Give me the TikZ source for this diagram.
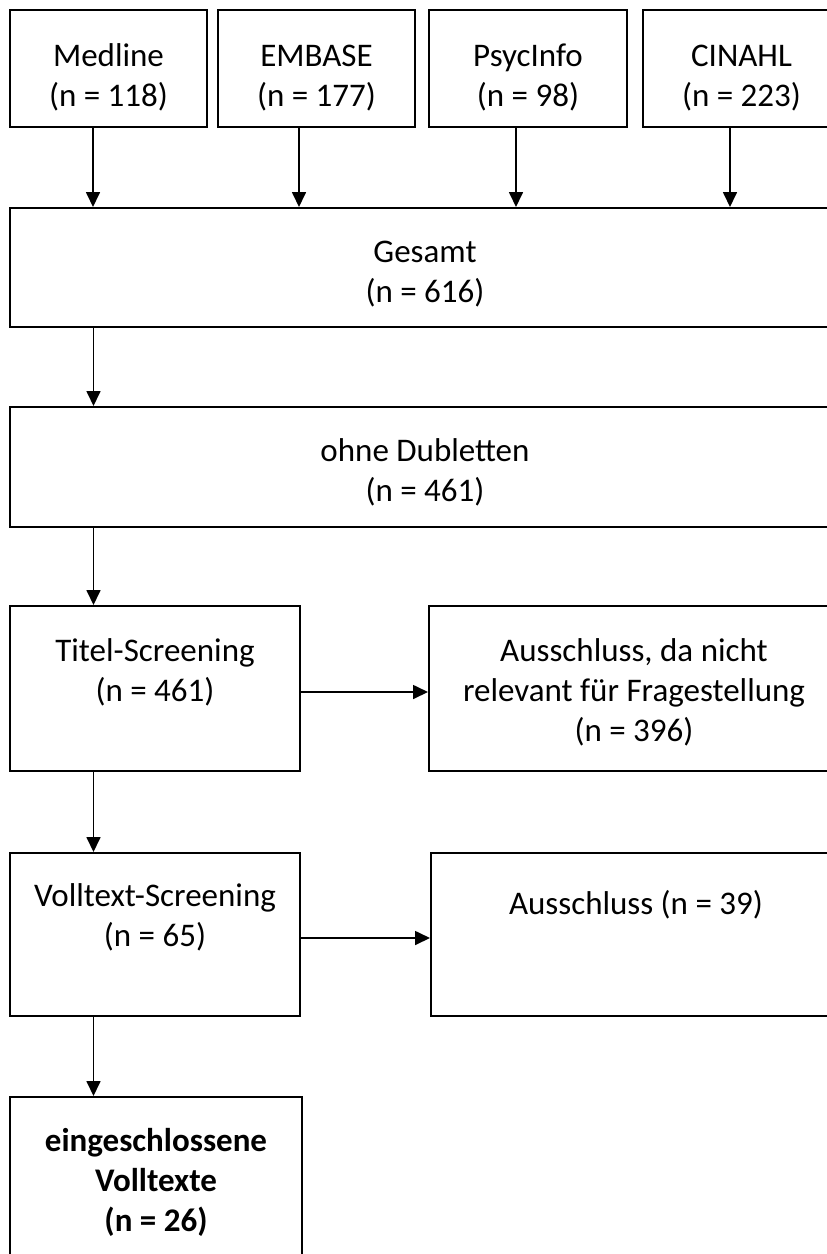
\documentclass[tikz,border=0pt]{standalone}
\usepackage{fontspec}
\setmainfont{Carlito}
\usetikzlibrary{arrows.meta}
\begin{document}
\begin{tikzpicture}[x=1pt,y=-1pt,
  box/.style={draw=black,line width=2pt,rectangle,inner sep=0pt},
  txt/.style={align=center,font=\fontsize{33}{40}\selectfont,inner sep=0pt},
  arr/.style={draw=black,line width=1.7pt,-{Triangle[width=14pt,length=15pt]}}]
\useasboundingbox (0,0) rectangle (827,1254);
\clip (0,0) rectangle (827,1254);
% top row
\node[box,minimum width=197,minimum height=117] (med) at (108.5,68.5) {};
\node[box,minimum width=197,minimum height=117] (emb) at (316.5,68.5) {};
\node[box,minimum width=198,minimum height=117] (psy) at (528,68.5) {};
\node[box,minimum width=197,minimum height=117] (cin) at (741.5,68.5) {};
\node[txt] (tmed) at (108.5,78) {\strut Medline\\\strut(n = 118)};
\node[txt] (temb) at (316.5,78) {\strut EMBASE\\\strut(n = 177)};
\node[txt] (tpsy) at (528,78) {\strut PsycInfo\\\strut(n = 98)};
\node[txt] (tcin) at (741.5,78) {\strut CINAHL\\\strut(n = 223)};
% main column
\node[box,minimum width=830,minimum height=119] (ges) at (425,267.5) {};
\node[txt] (tges) at (425,274) {\strut Gesamt\\\strut(n = 616)};
\node[box,minimum width=830,minimum height=120] (ohne) at (425,467) {};
\node[txt] (tohne) at (425,473) {\strut ohne Dubletten\\\strut(n = 461)};
\node[box,minimum width=290,minimum height=165] (titel) at (155,688.5) {};
\node[txt] (ttitel) at (155,673) {\strut Titel-Screening\\\strut(n = 461)};
\node[box,minimum width=411,minimum height=165] (aus1) at (634.5,688.5) {};
\node[txt] (taus1) at (634,693) {\strut Ausschluss, da nicht\\\strut relevant für Fragestellung\\\strut(n = 396)};
\node[box,minimum width=290,minimum height=163] (voll) at (155,934.5) {};
\node[txt] (tvoll) at (155,918) {\strut Volltext-Screening\\\strut(n = 65)};
\node[box,minimum width=409,minimum height=163] (aus2) at (635.5,934.5) {};
\node[txt] (taus2) at (636,906) {\strut Ausschluss (n = 39)};
\node[box,minimum width=292,minimum height=180] (ein) at (156,1187) {};
\node[txt,font=\fontsize{33}{40}\selectfont\bfseries] (tein) at (156,1183) {\strut eingeschlossene\\\strut Volltexte\\\strut(n = 26)};
% connectors
\draw[arr] (med.south) ++(-15.5,0) coordinate (m1) -- (m1 |- ges.north);
\draw[arr] (emb.south) ++(-17.5,0) coordinate (m2) -- (m2 |- ges.north);
\draw[arr] (psy.south) ++(-12,0) coordinate (m3) -- (m3 |- ges.north);
\draw[arr] (cin.south) ++(-11.5,0) coordinate (m4) -- (m4 |- ges.north);
\draw[arr] (ges.south -| m1) ++(0.5,0) coordinate (g1) -- (g1 |- ohne.north);
\draw[arr] (ohne.south -| g1) coordinate (o1) -- (o1 |- titel.north);
\draw[arr] (titel.east) ++(0,3.5) coordinate (t1) -- (t1 -| aus1.west);
\draw[arr] (titel.south -| g1) coordinate (t2) -- (t2 |- voll.north);
\draw[arr] (voll.east) ++(0,3.5) coordinate (v1) -- (v1 -| aus2.west);
\draw[arr] (voll.south -| g1) coordinate (v2) -- (v2 |- ein.north);
\end{tikzpicture}
\end{document}
